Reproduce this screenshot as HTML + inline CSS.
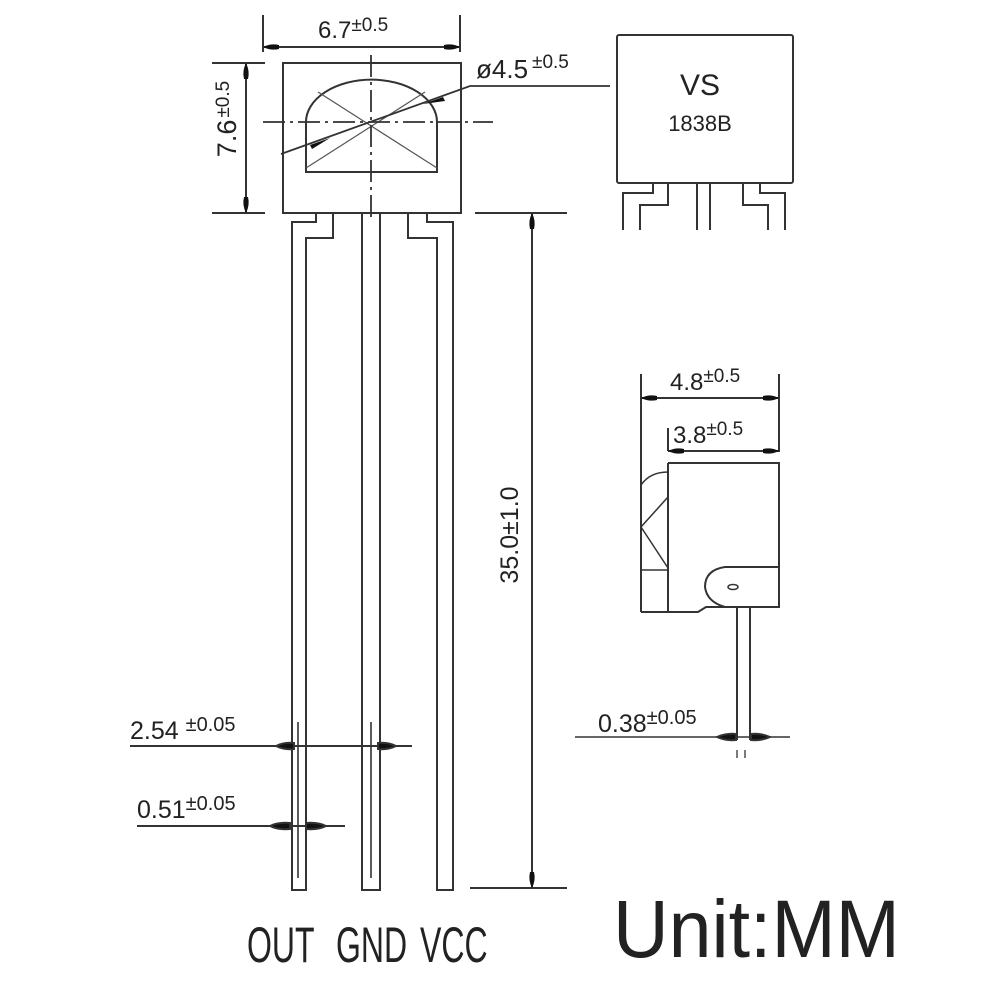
<!DOCTYPE html>
<html><head><meta charset="utf-8"><style>
html,body{margin:0;padding:0;background:#fff}
svg{display:block}
text{font-family:"Liberation Sans",sans-serif;fill:#222}
</style></head><body>
<svg width="1000" height="1000" viewBox="0 0 1000 1000" xmlns="http://www.w3.org/2000/svg">
<defs>
<marker id="a" viewBox="0 0 16 8" refX="16" refY="4" markerWidth="16" markerHeight="8" orient="auto-start-reverse" markerUnits="userSpaceOnUse"><path d="M0,2 Q8,0 16,4 Q8,8 0,6 Z" fill="#111"/></marker>
</defs>
<g fill="none" stroke="#333" stroke-width="2">
<rect x="283" y="63" width="178" height="150"/>
<path d="M306,172 V122 A65,42 0 0 1 437,122 V172 Z"/>
<g stroke-width="1.2" stroke="#555">
<line x1="318" y1="92" x2="437" y2="168"/>
<line x1="306" y1="168" x2="425" y2="92"/>
</g>
<g stroke-width="1.8" stroke-dasharray="22,5,3,5">
<line x1="263" y1="122" x2="493" y2="122"/>
<line x1="371" y1="55" x2="371" y2="222"/>
</g>
<polyline points="281,154 470,86 610,86" stroke-width="1.8"/>
<path d="M330,138 L310,145 L312,149 Z M423,104 L443,97 L445,101 Z" fill="#111" stroke="none"/>
<line x1="263" y1="15" x2="263" y2="52"/>
<line x1="460" y1="15" x2="460" y2="52"/>
<line x1="263" y1="47" x2="460" y2="47" marker-start="url(#a)" marker-end="url(#a)"/>
<line x1="212" y1="63" x2="265" y2="63"/>
<line x1="212" y1="213" x2="265" y2="213"/>
<line x1="246" y1="63" x2="246" y2="213" marker-start="url(#a)" marker-end="url(#a)"/>
<path d="M316,213 V222 H292 V890 H306 V238 H333 V213"/>
<path d="M362,213 V890 H380 V213"/>
<path d="M427,213 V222 H453 V890 H437 V238 H408 V213"/>
<line x1="298" y1="722" x2="298" y2="878" stroke-width="1.6"/>
<line x1="371" y1="722" x2="371" y2="878" stroke-width="1.6"/>
<line x1="475" y1="213" x2="567" y2="213"/>
<line x1="470" y1="888" x2="567" y2="888"/>
<line x1="532" y1="213" x2="532" y2="888" marker-start="url(#a)" marker-end="url(#a)"/>
<line x1="130" y1="746" x2="412" y2="746"/>
<path d="M276,746 Q284,742 294,743 L294,749 Q284,750 276,746 Z M396,746 Q388,742 378,743 L378,749 Q388,750 396,746Z" fill="#111"/>
<line x1="137" y1="826" x2="345" y2="826"/>
<path d="M270,826 Q278,822 290,823 L290,829 Q278,830 270,826 Z M326,826 Q318,822 306,823 L306,829 Q318,830 326,826Z" fill="#111"/>
<rect x="617" y="35" width="176" height="148" rx="2"/>
<path d="M623,230 V193 H653 V183"/>
<path d="M640,230 V205 H668 V183"/>
<line x1="697" y1="183" x2="697" y2="230"/>
<line x1="710" y1="183" x2="710" y2="230"/>
<path d="M743,183 V205 H768 V230"/>
<path d="M760,183 V193 H785 V230"/>
<line x1="641" y1="374" x2="641" y2="612"/>
<line x1="779" y1="374" x2="779" y2="452"/>
<line x1="641" y1="398" x2="779" y2="398" marker-start="url(#a)" marker-end="url(#a)"/>
<line x1="668" y1="428" x2="668" y2="451"/>
<line x1="668" y1="451" x2="779" y2="451" marker-start="url(#a)" marker-end="url(#a)"/>
<path d="M668,463 H779 V607 H725"/>
<line x1="668" y1="463" x2="668" y2="612"/>
<path d="M641,485 Q650,472 668,472" stroke-width="1.5"/>
<path d="M668,497 L641,527 L668,568" stroke-width="1.5"/>
<line x1="641" y1="570" x2="668" y2="570" stroke-width="1.5"/>
<path d="M641,612 H698 L706,607 H725"/>
<path d="M779,567 H725 Q705,570 705,587 Q707,602 725,607" />
<ellipse cx="733" cy="587" rx="5" ry="2.5" stroke-width="1.5"/>
<line x1="737" y1="607" x2="737" y2="740"/>
<line x1="750" y1="607" x2="750" y2="740"/>
<line x1="575" y1="737" x2="790" y2="737" stroke-width="1.6"/>
<path d="M717,737 Q726,733 736,734 L736,740 Q726,741 717,737 Z M770,737 Q761,733 751,734 L751,740 Q761,741 770,737Z" fill="#111"/>
<line x1="737" y1="750" x2="737" y2="758" stroke-width="1.3"/>
<line x1="745" y1="750" x2="745" y2="758" stroke-width="1.3"/>
</g>
<text x="318" y="38" font-size="24">6.7<tspan font-size="19" dy="-7">±0.5</tspan></text>
<text x="476" y="78" font-size="26">ø4.5<tspan font-size="19" dy="-10" dx="4">±0.5</tspan></text>
<text transform="translate(236,119) rotate(-90)" text-anchor="middle" font-size="27">7.6<tspan font-size="19" dy="-7" dx="2">±0.5</tspan></text>
<text transform="translate(518,535) rotate(-90)" text-anchor="middle" font-size="25">35.0±1.0</text>
<text x="130" y="739" font-size="25">2.54 <tspan font-size="20" dy="-8">±0.05</tspan></text>
<text x="137" y="818" font-size="25">0.51<tspan font-size="20" dy="-8">±0.05</tspan></text>
<text x="598" y="732" font-size="25">0.38<tspan font-size="20" dy="-8">±0.05</tspan></text>
<text x="670" y="390" font-size="24">4.8<tspan font-size="19" dy="-8">±0.5</tspan></text>
<text x="673" y="443" font-size="24">3.8<tspan font-size="19" dy="-8">±0.5</tspan></text>
<text x="700" y="95" text-anchor="middle" font-size="30">VS</text>
<text x="700" y="131" text-anchor="middle" font-size="22">1838B</text>
<text transform="translate(247,962) scale(0.64,1)" font-size="50">OUT</text>
<text transform="translate(336,962) scale(0.64,1)" font-size="50">GND</text>
<text transform="translate(420,962) scale(0.64,1)" font-size="50">VCC</text>
<text transform="translate(613,957) scale(0.94,1)" font-size="82" fill="#000">Unit:MM</text>
</svg>
</body></html>
